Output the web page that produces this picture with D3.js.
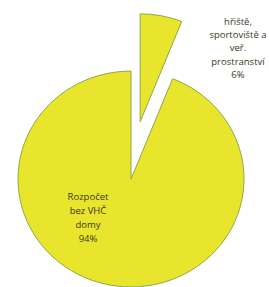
<!DOCTYPE html>
<html><head><meta charset="utf-8">
<script src="https://cdn.jsdelivr.net/npm/d3@7"></script>
<style>html,body{margin:0;padding:0;background:#fff;overflow:hidden}</style>
</head><body>
<svg id="chart" width="269" height="287"></svg>
<script>
const categories = ["hřiště, sportoviště a veř. prostranství", "Rozpočet bez VHČ domy"];
const values = [6, 94];
const labelLines = [["hřiště,", "sportoviště a", "veř.", "prostranství", "6%"], ["Rozpočet", "bez VHČ", "domy", "94%"]];
const explode = [61, 0];

const W = 269, H = 287, cx = 131, cy = 179, R = 113, sy = 0.955;
const svg = d3.select("#chart");
const pie = d3.pie().sort(null).startAngle(0).endAngle(2 * Math.PI);
const arcs = pie(values);
const arc = d3.arc().innerRadius(0).outerRadius(R);

const g = svg.append("g").attr("transform", `translate(${cx},${cy}) scale(1,${sy})`);
g.selectAll("path").data(arcs).join("path")
  .attr("d", arc)
  .attr("transform", (d, i) => {
    const a = (d.startAngle + d.endAngle) / 2;
    return `translate(${Math.sin(a) * explode[i] * 0.8},${-Math.cos(a) * explode[i]})`;
  })
  .attr("fill", "#e8e52c")
  .attr("stroke", "#8fa84a")
  .attr("stroke-width", 1)
  .attr("vector-effect", "non-scaling-stroke");

const labelPos = [[238, 25], [88, 200]];
const lh = [13.2, 14];
labelLines.forEach((lines, i) => {
  const t = svg.append("text")
    .attr("text-anchor", "middle")
    .attr("font-family", "Open Sans, Liberation Sans, sans-serif")
    .attr("font-size", 9.5)
    .attr("fill", "#353a28");
  lines.forEach((s, j) => {
    t.append("tspan").attr("x", labelPos[i][0]).attr("y", labelPos[i][1] + j * lh[i]).text(s);
  });
});
</script>
</body></html>
